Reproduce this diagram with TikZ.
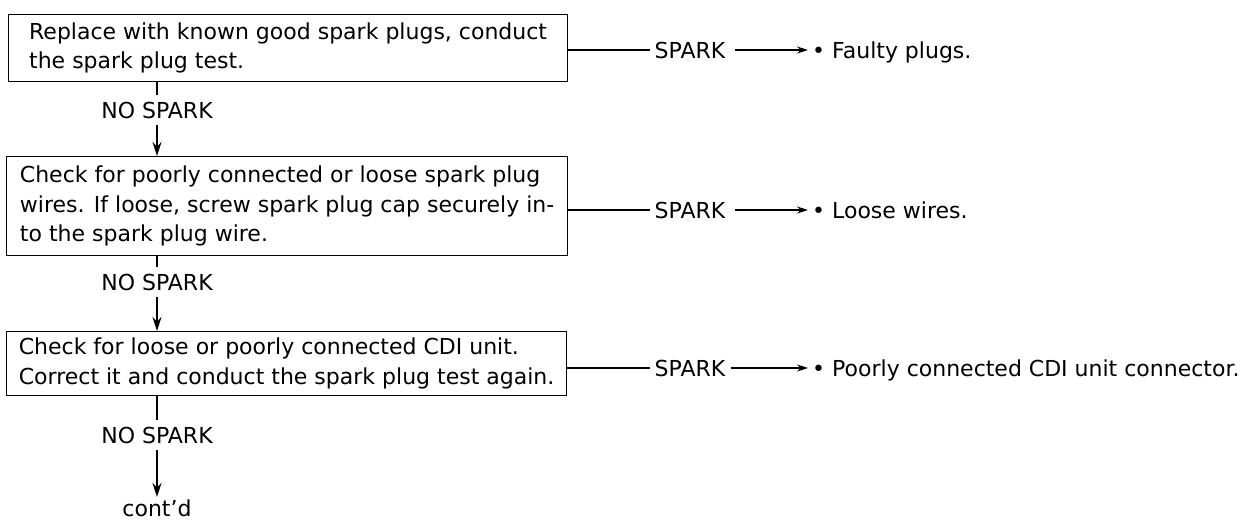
\documentclass[tikz,border=0pt]{standalone}
\usepackage{fontspec}
\setmainfont{DejaVu Sans}
\usetikzlibrary{arrows.meta}
\newcommand{\diagfont}{\fontsize{22}{29.5}\selectfont}
\begin{document}
\begin{tikzpicture}[x=1pt,y=-1pt,
  box/.style={draw, line width=1.2pt, anchor=north west, inner sep=0pt, align=left, font=\diagfont},
  lbl/.style={inner xsep=5pt, inner ysep=7pt, text height=16pt, text depth=0pt, font=\diagfont},
  conn/.style={line width=1.2pt},
  arr/.style={line width=1.2pt, -{Stealth[length=11pt,width=7pt]}},
  varr/.style={line width=1.3pt, -{Stealth[length=14pt,width=9pt]}}]
\useasboundingbox (0,0) rectangle (1251,523);
% boxes
\node[box, minimum width=559pt, minimum height=67pt] (b1) at (8,14)
  {Replace with known good spark plugs, conduct\\the spark plug test.};
\node[box, minimum width=561pt, minimum height=99pt] (b2) at (6,156)
  {Check for poorly connected or loose spark plug\\wires. If loose, screw spark plug cap securely in-\\to the spark plug wire.};
\node[box, minimum width=560pt, minimum height=64pt] (b3) at (6,331)
  {Check for loose or poorly connected CDI unit.\\Correct it and conduct the spark plug test again.};
% NO SPARK labels
\node[lbl] (n1) at (157,110) {NO SPARK};
\node[lbl] (n2) at (157,282) {NO SPARK};
\node[lbl] (n3) at (157,435) {NO SPARK};
\node[lbl, anchor=north, inner ysep=3pt] (c) at (157,497) {cont'd};
\draw[conn] (n1 |- b1.south) -- (n1.north);
\draw[varr] (n1.south) -- (b2.north -| n1);
\draw[conn] (n2 |- b2.south) -- (n2.north);
\draw[varr] (n2.south) -- (b3.north -| n2);
\draw[conn] (n3 |- b3.south) -- (n3.north);
\draw[varr] (n3.south) -- (c.north);
% SPARK branches
\node[lbl] (s1) at (690,50) {SPARK};
\node[lbl] (s2) at (690,210) {SPARK};
\node[lbl] (s3) at (690,368) {SPARK};
\node[lbl, anchor=west, inner xsep=4pt] (r1) at (808,50) {• Faulty plugs.};
\node[lbl, anchor=west, inner xsep=4pt] (r2) at (808,210) {• Loose wires.};
\node[lbl, anchor=west, inner xsep=4pt] (r3) at (808,368) {• Poorly connected CDI unit connector.};
\draw[conn] (b1.east |- s1) -- (s1.west);
\draw[conn] (b2.east |- s2) -- (s2.west);
\draw[conn] (b3.east |- s3) -- (s3.west);
\draw[arr] ([xshift=4pt]s1.east) -- (r1.west);
\draw[arr] ([xshift=4pt]s2.east) -- (r2.west);
\draw[arr] (s3.east) -- (r3.west);
\end{tikzpicture}
\end{document}
